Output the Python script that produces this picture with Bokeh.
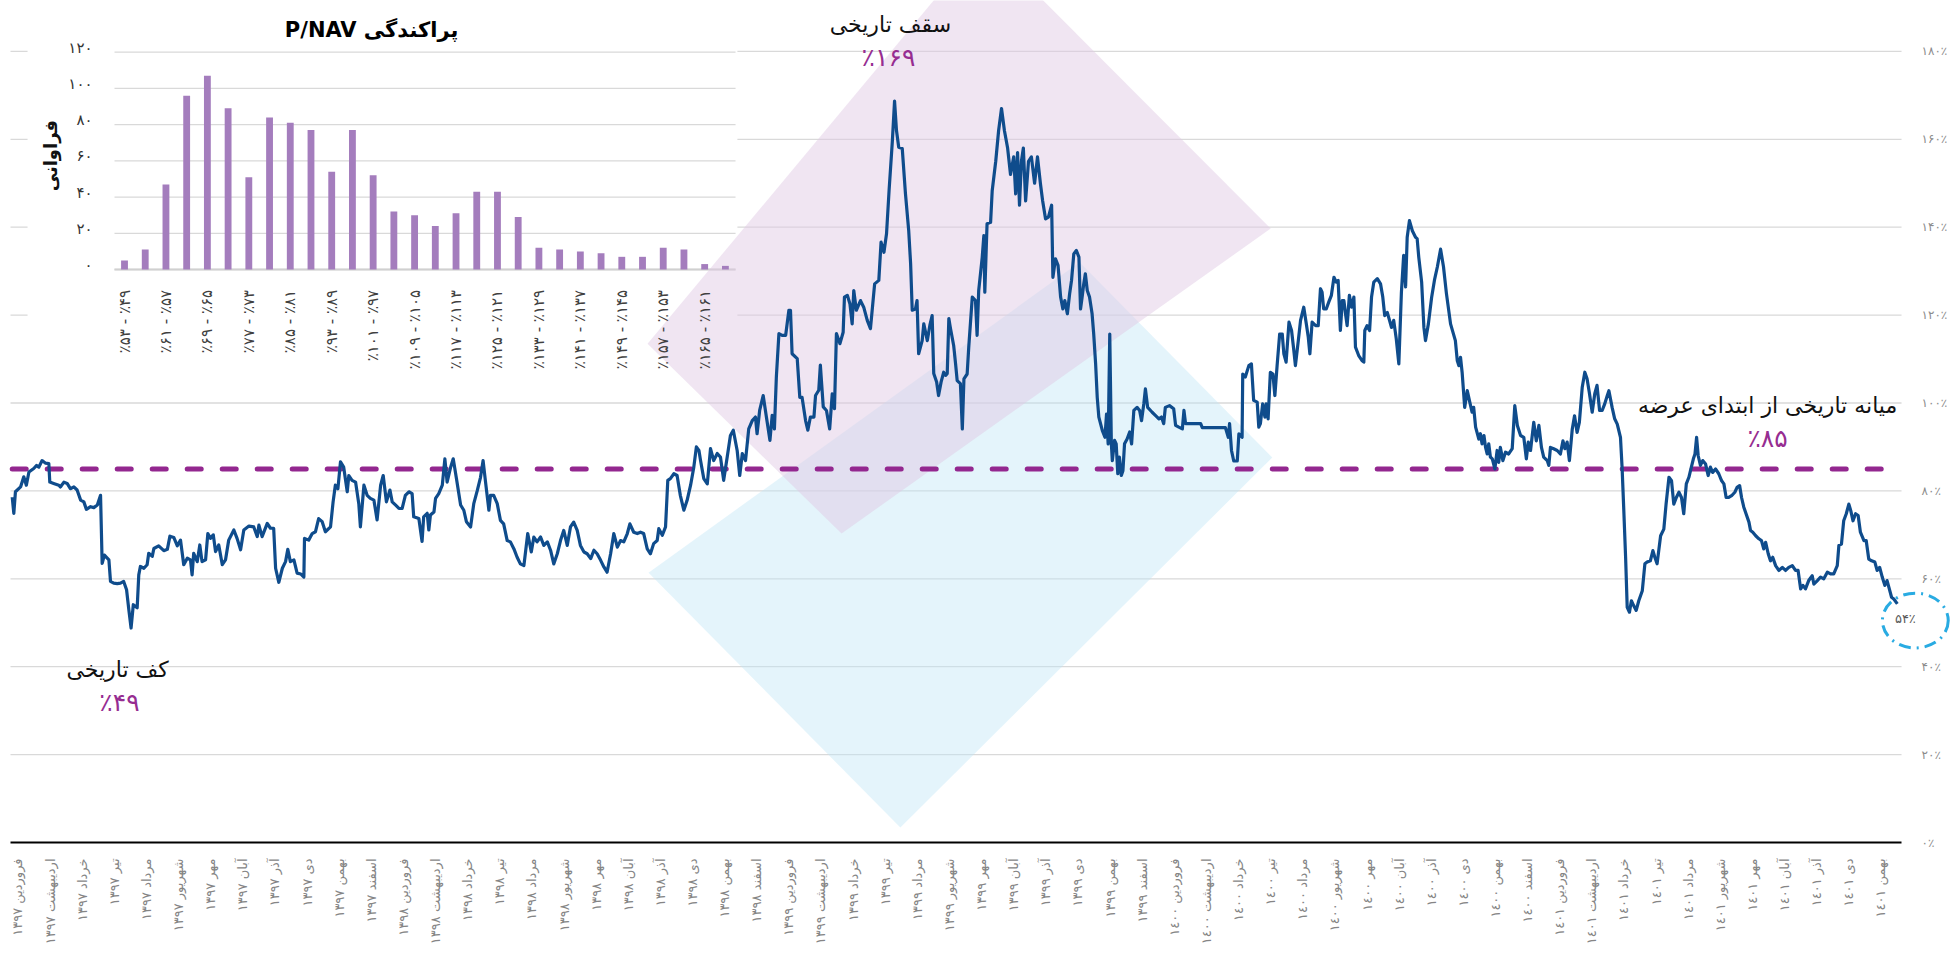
import math
from bokeh.plotting import figure
from bokeh.models import Range1d, LinearAxis, FixedTicker
from bokeh.core.properties import value
from bokeh.embed import file_html
from bokeh.resources import INLINE

FA = str.maketrans("0123456789", "۰۱۲۳۴۵۶۷۸۹")


def fa(n):
    return str(n).translate(FA)


# ---------------- data ----------------
months = ["فروردین", "اردیبهشت", "خرداد", "تیر", "مرداد", "شهریور",
          "مهر", "آبان", "آذر", "دی", "بهمن", "اسفند"]
years = ["۱۳۹۷", "۱۳۹۸", "۱۳۹۹", "۱٤۰۰", "۱٤۰۱"]
month_labels = [f"{months[i % 12]} {years[i // 12]}" for i in range(59)]

# time in months since the start of Farvardin 1397, and P/NAV in percent
t = [
    -0.18, -0.13, -0.08, 0.08, 0.18, 0.26, 0.34, 0.49, 0.58, 0.65,
    0.75, 0.86, 0.96, 0.99, 1.11, 1.27, 1.32, 1.43, 1.53, 1.63,
    1.74, 1.84, 1.95, 2.05, 2.13, 2.26, 2.36, 2.47, 2.57, 2.62,
    2.69, 2.83, 2.88, 2.98, 3.09, 3.19, 3.29, 3.38, 3.45, 3.52,
    3.59, 3.71, 3.76, 3.81, 3.92, 4.02, 4.07, 4.18, 4.23, 4.38,
    4.54, 4.65, 4.73, 4.85, 4.96, 5.06, 5.16, 5.27, 5.37, 5.42,
    5.47, 5.58, 5.66, 5.73, 5.84, 5.91, 5.99, 6.08, 6.15, 6.25,
    6.36, 6.46, 6.56, 6.72, 6.82, 6.93, 7.03, 7.19, 7.34, 7.45,
    7.50, 7.60, 7.76, 7.86, 7.96, 8.02, 8.12, 8.23, 8.33, 8.40,
    8.48, 8.59, 8.69, 8.80, 8.90, 8.92, 9.05, 9.16, 9.26, 9.36,
    9.47, 9.57, 9.73, 9.81, 9.88, 9.96, 10.04, 10.14, 10.25, 10.30,
    10.40, 10.51, 10.61, 10.66, 10.77, 10.87, 10.97, 11.08, 11.18, 11.29,
    11.37, 11.47, 11.58, 11.65, 11.75, 11.86, 11.96, 12.06, 12.17, 12.27,
    12.32, 12.48, 12.58, 12.63, 12.74, 12.79, 12.84, 12.95, 13.00, 13.10,
    13.21, 13.29, 13.36, 13.47, 13.55, 13.65, 13.78, 13.88, 13.96, 14.09,
    14.19, 14.30, 14.40, 14.48, 14.55, 14.66, 14.71, 14.81, 14.92, 15.02,
    15.12, 15.23, 15.33, 15.44, 15.54, 15.64, 15.75, 15.87, 15.98, 16.06,
    16.16, 16.27, 16.37, 16.48, 16.58, 16.68, 16.79, 16.89, 16.99, 17.10,
    17.20, 17.30, 17.41, 17.51, 17.62, 17.72, 17.83, 17.93, 18.03, 18.14,
    18.24, 18.34, 18.45, 18.55, 18.66, 18.76, 18.86, 18.97, 19.05, 19.17,
    19.28, 19.38, 19.48, 19.59, 19.69, 19.79, 19.90, 19.95, 20.06, 20.16,
    20.23, 20.31, 20.42, 20.52, 20.62, 20.73, 20.83, 20.94, 21.04, 21.12,
    21.20, 21.25, 21.35, 21.46, 21.56, 21.66, 21.77, 21.87, 21.97, 22.08,
    22.18, 22.27, 22.39, 22.47, 22.55, 22.65, 22.75, 22.86, 22.96, 23.01,
    23.09, 23.20, 23.30, 23.41, 23.48, 23.55, 23.61, 23.69, 23.79, 23.90,
    24.00, 24.05, 24.10, 24.26, 24.34, 24.41, 24.52, 24.59, 24.67, 24.78,
    24.83, 24.93, 24.98, 25.07, 25.17, 25.27, 25.35, 25.42, 25.48, 25.59,
    25.69, 25.73, 25.82, 25.90, 25.97, 26.02, 26.10, 26.23, 26.33, 26.44,
    26.54, 26.67, 26.80, 26.87, 26.96, 27.04, 27.12, 27.22, 27.29, 27.35,
    27.42, 27.53, 27.63, 27.73, 27.79, 27.84, 27.94, 27.99, 28.04, 28.15,
    28.20, 28.31, 28.39, 28.46, 28.51, 28.60, 28.66, 28.74, 28.82, 28.88,
    28.93, 28.98, 29.03, 29.13, 29.19, 29.24, 29.34, 29.40, 29.45, 29.55,
    29.60, 29.71, 29.81, 29.86, 29.91, 30.02, 30.07, 30.10, 30.17, 30.28,
    30.33, 30.44, 30.53, 30.62, 30.71, 30.81, 30.90, 31.00, 31.06, 31.12,
    31.18, 31.24, 31.30, 31.37, 31.46, 31.55, 31.65, 31.74, 31.83, 31.90,
    31.99, 32.08, 32.18, 32.22, 32.30, 32.38, 32.46, 32.53, 32.59, 32.67,
    32.74, 32.80, 32.87, 32.95, 33.03, 33.08, 33.13, 33.18, 33.23, 33.29,
    33.36, 33.44, 33.49, 33.55, 33.60, 33.65, 33.76, 33.84, 33.89, 33.94,
    33.99, 34.04, 34.07, 34.14, 34.19, 34.24, 34.29, 34.35, 34.40, 34.45,
    34.53, 34.61, 34.67, 34.74, 34.84, 34.92, 34.98, 35.05, 35.10, 35.17,
    35.31, 35.41, 35.52, 35.60, 35.67, 35.72, 35.85, 35.98, 36.04, 36.14,
    36.25, 36.30, 36.35, 36.82, 36.87, 37.59, 37.68, 37.72, 37.78, 37.85,
    37.96, 38.01, 38.11, 38.13, 38.21, 38.32, 38.40, 38.47, 38.58, 38.63,
    38.68, 38.75, 38.82, 38.86, 38.92, 38.99, 39.07, 39.13, 39.20, 39.28,
    39.36, 39.41, 39.48, 39.57, 39.65, 39.72, 39.77, 39.86, 39.93, 40.03,
    40.11, 40.17, 40.22, 40.29, 40.40, 40.48, 40.55, 40.60, 40.65, 40.73,
    40.81, 40.89, 40.97, 41.04, 41.10, 41.17, 41.23, 41.28, 41.33, 41.38,
    41.45, 41.52, 41.59, 41.64, 41.74, 41.85, 41.90, 41.93, 42.00, 42.08,
    42.14, 42.21, 42.32, 42.42, 42.49, 42.55, 42.63, 42.70, 42.76, 42.83,
    42.91, 42.99, 43.07, 43.14, 43.20, 43.25, 43.32, 43.41, 43.51, 43.56,
    43.61, 43.70, 43.77, 43.82, 43.91, 44.01, 44.10, 44.19, 44.29, 44.38,
    44.47, 44.60, 44.75, 44.81, 44.86, 44.91, 44.96, 45.04, 45.12, 45.19,
    45.27, 45.32, 45.38, 45.48, 45.53, 45.58, 45.64, 45.69, 45.74, 45.79,
    45.84, 45.90, 45.98, 46.05, 46.10, 46.15, 46.23, 46.31, 46.41, 46.52,
    46.60, 46.68, 46.78, 46.88, 46.96, 47.02, 47.09, 47.19, 47.27, 47.35,
    47.43, 47.50, 47.61, 47.66, 47.71, 47.81, 47.92, 48.02, 48.10, 48.16,
    48.23, 48.30, 48.39, 48.46, 48.54, 48.61, 48.70, 48.78, 48.85, 48.92,
    49.01, 49.09, 49.16, 49.24, 49.32, 49.40, 49.48, 49.53, 49.63, 49.71,
    49.79, 49.89, 49.94, 49.99, 50.05, 50.10, 50.17, 50.23, 50.30, 50.38,
    50.46, 50.57, 50.65, 50.72, 50.82, 50.90, 50.96, 51.03, 51.14, 51.24,
    51.31, 51.40, 51.48, 51.55, 51.63, 51.71, 51.79, 51.86, 51.94, 52.02,
    52.07, 52.16, 52.21, 52.26, 52.31, 52.38, 52.45, 52.54, 52.62, 52.69,
    52.76, 52.85, 52.95, 53.04, 53.11, 53.18, 53.26, 53.35, 53.45, 53.52,
    53.60, 53.66, 53.73, 53.80, 53.89, 53.94, 54.01, 54.10, 54.20, 54.28,
    54.35, 54.41, 54.49, 54.56, 54.63, 54.72, 54.82, 54.93, 55.03, 55.13,
    55.24, 55.34, 55.42, 55.50, 55.57, 55.65, 55.75, 55.86, 55.91, 56.02,
    56.12, 56.22, 56.33, 56.43, 56.53, 56.64, 56.69, 56.77, 56.84, 56.92,
    57.00, 57.06, 57.13, 57.21, 57.29, 57.36, 57.47, 57.54, 57.62, 57.71,
    57.81, 57.88, 57.96, 58.04, 58.12, 58.19, 58.26, 58.33, 58.40, 58.51,
]
pnav = [
    78.6, 74.9, 79.8, 80.9, 83.2, 81.3, 84.3, 85.1, 85.8, 85.4,
    86.9, 86.3, 86.2, 82.0, 81.7, 81.3, 80.9, 82.0, 81.7, 80.5,
    80.9, 80.2, 77.9, 77.5, 75.8, 76.4, 76.2, 76.8, 79.0, 63.5,
    65.4, 64.3, 59.4, 59.0, 58.9, 59.0, 59.4, 57.5, 53.0, 48.8,
    54.1, 53.4, 60.9, 62.8, 62.4, 63.2, 65.8, 65.1, 66.9, 67.5,
    66.4, 66.7, 69.7, 69.4, 67.5, 68.8, 63.2, 64.7, 64.3, 60.9,
    65.8, 63.9, 67.7, 63.9, 64.3, 70.3, 69.2, 70.0, 66.2, 67.7,
    63.2, 64.3, 68.8, 71.1, 69.2, 66.6, 71.1, 72.0, 71.8, 69.6,
    72.2, 69.6, 72.6, 71.5, 71.5, 62.4, 59.2, 62.4, 63.9, 66.7,
    63.9, 64.3, 61.3, 61.1, 60.4, 69.2, 68.8, 70.3, 70.7, 73.7,
    73.0, 70.7, 71.8, 77.5, 81.3, 80.5, 86.6, 85.4, 79.8, 83.5,
    82.4, 82.0, 77.1, 71.8, 81.3, 79.0, 78.3, 77.9, 73.4, 81.3,
    83.5, 77.5, 80.2, 77.5, 76.8, 76.0, 76.0, 79.0, 79.8, 79.4,
    74.1, 73.7, 68.5, 74.1, 74.9, 71.1, 74.5, 75.2, 78.3, 79.4,
    81.3, 87.3, 82.0, 85.4, 87.3, 82.8, 76.8, 75.6, 73.0, 71.8,
    77.1, 80.1, 83.1, 86.9, 82.4, 75.6, 79.0, 79.0, 77.1, 73.3,
    72.5, 68.7, 68.4, 66.8, 64.9, 63.4, 63.0, 70.3, 66.1, 69.5,
    68.4, 69.5, 67.6, 68.4, 66.5, 63.4, 65.7, 68.7, 71.0, 67.6,
    71.8, 72.9, 71.0, 67.6, 66.1, 65.7, 64.6, 66.5, 65.7, 64.2,
    62.7, 61.5, 65.7, 70.3, 67.2, 68.7, 68.4, 70.3, 72.5, 70.6,
    70.3, 70.6, 70.3, 66.8, 65.7, 68.0, 68.7, 71.4, 69.9, 71.8,
    82.4, 82.8, 83.9, 83.5, 79.0, 75.6, 77.8, 81.3, 85.4, 90.0,
    89.2, 86.9, 82.8, 81.6, 89.6, 86.9, 88.5, 87.7, 82.4, 87.7,
    92.6, 93.8, 89.2, 83.5, 88.5, 86.9, 94.1, 96.0, 96.8, 93.0,
    98.3, 101.7, 96.8, 91.5, 97.2, 94.1, 105.9, 115.8, 115.4, 115.4,
    121.1, 121.1, 111.2, 110.1, 101.3, 101.3, 96.0, 93.8, 96.8, 96.8,
    101.7, 102.9, 108.6, 99.1, 98.3, 94.1, 102.1, 98.7, 115.8, 113.5,
    116.1, 124.1, 124.5, 122.6, 118.0, 125.6, 121.1, 123.3, 121.8, 118.8,
    116.9, 127.1, 127.9, 136.6, 134.3, 138.5, 148.4, 159.4, 168.7, 162.0,
    158.2, 157.9, 147.6, 139.3, 131.7, 121.1, 121.4, 123.3, 111.2, 114.2,
    118.0, 114.2, 117.7, 119.9, 106.7, 104.8, 101.7, 104.8, 107.0, 106.3,
    106.7, 119.2, 117.0, 113.1, 108.9, 105.1, 104.4, 94.1, 105.5, 106.6,
    112.7, 124.1, 123.3, 115.4, 125.6, 133.2, 138.1, 125.2, 140.8, 141.1,
    148.3, 155.0, 162.0, 167.0, 162.0, 158.0, 152.0, 156.0, 147.6, 157.0,
    145.0, 155.0, 158.0, 146.0, 155.0, 156.0, 150.0, 156.0, 150.0, 146.0,
    141.9, 142.3, 145.0, 128.6, 132.8, 131.3, 124.1, 121.4, 123.3, 120.3,
    124.8, 127.9, 133.9, 134.7, 133.2, 121.4, 124.1, 127.1, 129.4, 125.6,
    124.1, 120.3, 115.7, 108.9, 101.3, 96.8, 93.7, 92.2, 97.5, 90.7,
    115.7, 90.7, 86.9, 91.5, 90.7, 83.9, 87.7, 83.5, 84.6, 90.7,
    91.8, 93.4, 90.7, 98.3, 99.0, 98.3, 96.0, 99.8, 103.2, 99.0,
    97.9, 97.2, 96.4, 96.8, 95.3, 99.0, 99.4, 98.7, 94.9, 94.5,
    94.1, 98.3, 95.3, 95.3, 94.4, 94.4, 92.2, 95.3, 89.2, 86.8,
    86.8, 93.0, 92.2, 106.6, 105.9, 108.5, 108.9, 100.6, 100.2, 94.5,
    95.3, 99.8, 96.8, 99.8, 96.4, 107.0, 106.6, 101.7, 108.5, 115.7,
    115.7, 111.2, 109.3, 118.4, 116.5, 112.0, 108.5, 114.2, 118.8, 121.8,
    118.0, 115.0, 111.2, 118.4, 117.6, 117.6, 126.0, 125.2, 121.4, 121.4,
    123.0, 124.5, 128.6, 127.5, 127.9, 116.5, 123.3, 123.3, 120.3, 117.6,
    124.5, 121.8, 124.1, 112.7, 110.8, 109.6, 109.3, 116.5, 117.6, 116.5,
    124.1, 127.5, 128.3, 127.1, 124.1, 119.9, 120.6, 118.8, 117.2, 118.8,
    114.6, 108.9, 125.2, 133.6, 126.4, 137.7, 141.5, 139.2, 137.7, 137.4,
    133.2, 127.5, 117.2, 114.2, 118.0, 124.0, 128.0, 131.0, 135.0, 131.0,
    125.0, 118.0, 114.2, 109.6, 108.5, 110.4, 107.0, 99.0, 102.8, 100.5,
    97.9, 99.0, 94.5, 91.8, 93.0, 90.7, 92.6, 89.9, 88.4, 90.7,
    87.7, 87.3, 85.0, 89.2, 86.5, 89.9, 86.9, 88.8, 88.4, 89.6,
    99.4, 94.9, 92.6, 92.2, 87.3, 91.1, 89.2, 95.6, 91.4, 94.9,
    89.9, 87.7, 86.9, 85.8, 89.9, 89.6, 89.2, 88.4, 91.4, 89.6,
    91.1, 86.9, 94.1, 97.1, 93.3, 95.6, 103.6, 107.0, 105.5, 102.4,
    97.9, 102.1, 104.0, 98.3, 98.3, 99.8, 101.7, 102.8, 99.0, 96.4,
    95.2, 92.2, 85.4, 76.3, 64.9, 53.5, 52.4, 55.0, 53.9, 52.8,
    55.0, 57.3, 63.4, 63.8, 64.1, 66.4, 64.9, 63.4, 69.8, 71.3,
    77.0, 83.1, 82.3, 77.0, 78.5, 79.7, 78.5, 74.8, 81.6, 83.1,
    84.6, 87.3, 88.4, 92.2, 88.0, 85.8, 86.9, 86.1, 83.5, 85.4,
    84.2, 85.0, 83.9, 82.3, 81.6, 78.5, 78.5, 78.9, 79.7, 80.8,
    81.2, 78.5, 76.3, 74.8, 72.9, 71.0, 70.6, 69.8, 69.1, 68.7,
    66.8, 68.3, 65.7, 64.1, 64.9, 63.0, 61.9, 62.6, 61.9, 62.6,
    63.0, 61.9, 61.9, 57.7, 58.5, 57.7, 59.6, 60.7, 58.8, 59.6,
    60.4, 60.0, 61.5, 61.1, 61.1, 63.0, 67.6, 67.9, 73.2, 74.8,
    77.0, 75.5, 73.2, 74.8, 74.4, 70.6, 68.7, 68.7, 64.5, 64.1,
    63.8, 61.9, 62.6, 60.4, 58.5, 59.6, 57.7, 55.8, 55.4, 54.3,
]

# histogram of P/NAV (bins of 4 percentage points starting at 49%)
bin_low = list(range(49, 169, 4))
bin_count = [5, 11, 47, 96, 107, 89, 51, 84, 81, 77,
             54, 77, 52, 32, 30, 24, 31, 43, 43, 29,
             12, 11, 10, 9, 7, 7, 12, 11, 3, 2]
pct_ticks = list(range(0, 181, 20))
hist_ticks = list(range(0, 121, 20))

PEAK, FLOOR, MEDIAN, LAST = 169, 49, 85, 54

FONT = value("DejaVu Sans")

# ---------------- figure ----------------
p = figure(width=1950, height=950,
           x_range=Range1d(-0.5448, 60.165), y_range=Range1d(-24.573, 191.58),
           output_backend="svg", toolbar_location=None,
           x_axis_location=None, y_axis_location=None,
           min_border_left=0, min_border_right=0, min_border_top=0,
           min_border_bottom=0,
           background_fill_color="white", border_fill_color="white")
p.outline_line_color = None
p.grid.visible = False

p.extra_x_ranges = {"hx": Range1d(-5.985, 88.127)}
p.extra_y_ranges = {"hy": Range1d(-376.04, 148.54)}
H = dict(x_range_name="hx", y_range_name="hy")

X0, X1 = -0.233, 58.64

# main horizontal grid lines
gv = pct_ticks[1:]
p.segment(x0=[X0] * len(gv), y0=gv, x1=[X1] * len(gv), y1=gv,
          line_color="#d9d9d9", line_width=1.3)

# inset (histogram) background
p.quad(left=[-4.68], right=[29.58], bottom=[-61.3], top=[160],
       fill_color="white", line_color=None, **H)
p.segment(x0=[-0.483] * len(hist_ticks), y0=hist_ticks,
          x1=[29.49] * len(hist_ticks), y1=hist_ticks,
          line_color="#d9d9d9", line_width=1.3, **H)
p.segment(x0=[-0.483], y0=[0], x1=[29.49], y1=[0],
          line_color="#d0d0d0", line_width=2, **H)

# decorative diamonds
p.patch(x=[19.63, 33.05, 39.05, 27.47], y=[61.4, 132.0, 87.6, 3.4],
        fill_color="#bee4f5", fill_alpha=0.42, line_color=None)
p.patch(x=[19.6, 30.06, 39.0, 25.64], y=[113.5, 205.2, 139.7, 70.3],
        fill_color="#e0c8e4", fill_alpha=0.48, line_color=None)

# histogram bars and labels
idx = list(range(len(bin_count)))
p.vbar(x=idx, top=bin_count, bottom=0, width=0.33,
       fill_color="#a47dbd", line_color=None, **H)
lab_idx = idx[::2]
lab_txt = [f"٪{fa(bin_low[i] + 4)}  -  ٪{fa(bin_low[i])}" for i in lab_idx]
p.text(x=lab_idx, y=[-6] * len(lab_idx), text=lab_txt, angle=math.pi / 2,
       text_align="right", text_baseline="middle", text_font=FONT,
       text_font_size="15px", text_color="#404040", **H)
p.text(x=[-1.544] * len(hist_ticks), y=[v + 2.5 for v in hist_ticks],
       text=[fa(v) for v in hist_ticks], text_align="right",
       text_baseline="middle", text_font=FONT, text_font_size="15px",
       text_color="#333333", **H)
p.text(x=[-3.571], y=[62.9], text=["فراوانی"], angle=math.pi / 2,
       text_align="center", text_baseline="middle", text_font=FONT,
       text_font_size="18px", text_font_style="bold", text_color="#111111", **H)
p.text(x=[11.925], y=[132], text=["P/NAV پراکندگی"], text_align="center",
       text_baseline="middle", text_font=FONT, text_font_size="21px",
       text_font_style="bold", text_color="#000000", **H)

# median line
p.line(x=[t[0], t[-1]], y=[MEDIAN, MEDIAN], line_color="#93278f",
       line_width=5, line_dash="14 21", line_cap="round")

# main series
p.line(t, pnav, line_color="#0f4c8c", line_width=3.2, line_join="round")

# annotations
ann = dict(text_font=FONT, text_align="center", text_baseline="middle")
p.text(x=[27.16], y=[186.1], text=["سقف تاریخی"], text_font_size="22px",
       text_color="#111111", **ann)
p.text(x=[27.10], y=[178.6], text=[f"٪{fa(PEAK)}"], text_font_size="25px",
       text_color="#962d91", **ann)
p.text(x=[3.10], y=[39.4], text=["کف تاریخی"], text_font_size="22px",
       text_color="#111111", **ann)
p.text(x=[3.16], y=[31.9], text=[f"٪{fa(FLOOR)}"], text_font_size="25px",
       text_color="#962d91", **ann)
p.text(x=[54.47], y=[99.4], text=["میانه تاریخی از ابتدای عرضه"],
       text_font_size="22px", text_color="#111111", **ann)
p.text(x=[54.47], y=[91.9], text=[f"٪{fa(MEDIAN)}"], text_font_size="25px",
       text_color="#962d91", **ann)
p.text(x=[58.76], y=[51.0], text=[f"{fa(LAST)}٪"], text_font_size="13px",
       text_color="#595959", **ann)
p.ellipse(x=[59.07], y=[50.5], width=2.05, height=12.5, fill_color=None,
          line_color="#29abe2", line_width=3, line_dash="12 6 2 6")

# axes
xa = LinearAxis(fixed_location=0,
                ticker=FixedTicker(ticks=list(range(len(month_labels)))),
                major_label_overrides={i: s for i, s in enumerate(month_labels)},
                major_label_orientation=math.pi / 2, bounds=(X0, X1),
                axis_line_color="black", axis_line_width=2,
                major_tick_line_color=None, minor_tick_line_color=None,
                major_label_standoff=10, major_label_text_font_size="13px",
                major_label_text_color="#858585",
                major_label_text_font="DejaVu Sans")
p.add_layout(xa, "below")

ya = LinearAxis(fixed_location=X1, ticker=FixedTicker(ticks=pct_ticks),
                major_label_overrides={v: fa(v) + "٪" for v in pct_ticks},
                axis_line_color=None, major_tick_line_color=None,
                minor_tick_line_color=None, major_label_standoff=14,
                major_label_text_font_size="12px",
                major_label_text_color="#8c8c8c",
                major_label_text_font="DejaVu Sans")
p.add_layout(ya, "right")

open("out.html", "w").write(file_html(p, INLINE))
